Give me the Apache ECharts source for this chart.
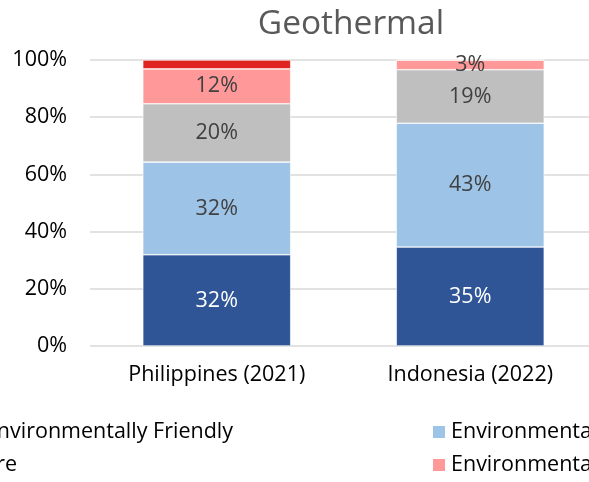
<!DOCTYPE html>
<html>
<head>
<meta charset="utf-8">
<script src="https://cdn.jsdelivr.net/npm/echarts@6/dist/echarts.min.js"></script>
<style>
  html, body { margin: 0; padding: 0; background: #fff; overflow: hidden; }
  #chart { width: 597px; height: 482px; }
</style>
</head>
<body>
<div id="chart"></div>
<script>
const categories = ['Philippines (2021)', 'Indonesia (2022)'];
const seriesNames = [
  'Very Environmentally Friendly',
  'Environmentally Friendly',
  'Not Sure',
  'Environmentally Unfriendly',
  'Very Environmentally Unfriendly'
];
const veryFriendly = [31.9, 34.6];
const friendly = [32.4, 43.3];
const notSure = [20.4, 18.7];
const unfriendly = [12.2, 3.4];
const veryUnfriendly = [3.1, 0];
const colors = ['#2F5597', '#9DC3E6', '#BFBFBF', '#FF9999', '#E0241F'];

const FONT = 'Open Sans';
const values = [veryFriendly, friendly, notSure, unfriendly, veryUnfriendly];

const series = values.map((vals, i) => ({
  name: seriesNames[i],
  type: 'bar',
  stack: 'total',
  barWidth: 148,
  data: vals,
  itemStyle: { color: colors[i], borderColor: '#ffffff', borderWidth: 0.6 },
  label: {
    show: i < 4,
    position: 'inside',
    offset: [0, 3],
    fontFamily: FONT,
    fontSize: 21.5,
    color: i === 0 ? '#ffffff' : '#404040',
    formatter: p => p.value > 0 ? Math.round(p.value) + '%' : ''
  },
  labelLayout: { hideOverlap: false }
}));

const legendText = { fontFamily: FONT, fontSize: 21.5, color: '#000000' };
const legendBase = {
  orient: 'horizontal',
  padding: 0,
  itemWidth: 14,
  itemHeight: 14,
  itemGap: 6,
  icon: 'rect',
  textStyle: legendText
};

// the chart is wider than the window, the window cuts it on the right
const option = {
  animation: false,
  title: {
    text: 'Geothermal',
    left: 346,
    top: 2,
    textAlign: 'center',
    textStyle: { fontFamily: FONT, fontSize: 33.5, fontWeight: 'normal', color: '#595959' }
  },
  color: colors,
  legend: [
    Object.assign({}, legendBase, { data: [seriesNames[0]], right: 364, top: 421 }),
    Object.assign({}, legendBase, { data: [seriesNames[1]], left: 431, top: 421 }),
    Object.assign({}, legendBase, { data: [seriesNames[2]], right: 580, top: 454 }),
    Object.assign({}, legendBase, { data: [seriesNames[3]], left: 431, top: 454 }),
    Object.assign({}, legendBase, { data: [seriesNames[4]], right: 364, top: 500 })
  ],
  grid: { left: 90, right: 0, top: 60, bottom: 136 },
  xAxis: {
    type: 'category',
    data: categories,
    axisLine: { show: false },
    axisTick: { show: false },
    axisLabel: { fontFamily: FONT, fontSize: 21.5, color: '#000000', margin: 18 }
  },
  yAxis: {
    type: 'value',
    min: 0,
    max: 100,
    interval: 20,
    axisLabel: { fontFamily: FONT, fontSize: 21.5, color: '#000000', margin: 23, formatter: '{value}%' },
    splitLine: { lineStyle: { color: '#D9D9D9', width: 1.5 } }
  },
  series: series
};

const myChart = echarts.init(document.getElementById('chart'));
myChart.setOption(option);
</script>
</body>
</html>
